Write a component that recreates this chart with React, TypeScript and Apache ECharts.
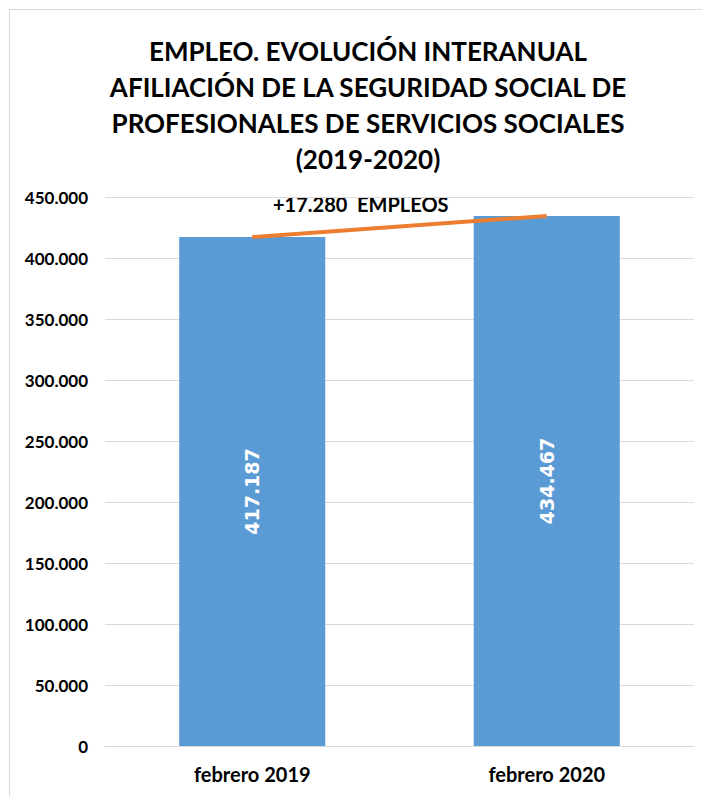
import React, { useEffect, useRef } from "react";
import * as echarts from "echarts";

const categories = ["febrero 2019", "febrero 2020"];
const afiliados = [417187, 434467];
const titleLines = [
  "EMPLEO. EVOLUCIÓN INTERANUAL",
  "AFILIACIÓN DE LA SEGURIDAD SOCIAL DE",
  "PROFESIONALES DE SERVICIOS SOCIALES",
  "(2019-2020)",
];
const annotation = "+17.280  EMPLEOS";
const yMax = 450000;
const yStep = 50000;

const fmt = (v: number) =>
  String(Math.round(v)).replace(/\B(?=(\d{3})+(?!\d))/g, ".");

const FONT = "Lato, 'Open Sans', sans-serif";

export default function App() {
  const ref = useRef<HTMLDivElement>(null);
  useEffect(() => {
    if (!ref.current) return;
    const chart = echarts.init(ref.current, undefined, { renderer: "svg" });
    chart.setOption({
      animation: false,
      backgroundColor: "#ffffff",
      title: {
        text: titleLines.join("\n"),
        left: 363,
        top: 28,
        textAlign: "center",
        textStyle: {
          fontFamily: FONT,
          fontWeight: "bold",
          fontSize: 26,
          lineHeight: 36,
          color: "#000000",
        },
      },
      grid: { left: 105, right: 8, top: 197, bottom: 50 },
      xAxis: {
        type: "category",
        data: categories,
        axisLine: { show: true, lineStyle: { color: "#D9D9D9", width: 1 } },
        axisTick: { show: false },
        axisLabel: {
          margin: 18,
          fontFamily: FONT,
          fontWeight: "bold",
          fontSize: 20,
          color: "#000000",
        },
      },
      yAxis: {
        type: "value",
        min: 0,
        max: yMax,
        interval: yStep,
        axisLine: { show: false },
        axisTick: { show: false },
        splitLine: { lineStyle: { color: "#D9D9D9", width: 1 } },
        axisLabel: {
          margin: 17,
          fontFamily: FONT,
          fontWeight: "bold",
          fontSize: 17,
          color: "#000000",
          formatter: (v: number) => fmt(v),
        },
      },
      graphic: [
        {
          type: "rect",
          silent: true,
          shape: { x: 9.5, y: 9.5, width: 900, height: 900 },
          style: { fill: "none", stroke: "#D9D9D9", lineWidth: 1 },
        },
        {
          type: "text",
          left: 273,
          top: 194,
          style: {
            text: annotation,
            fontFamily: FONT,
            fontWeight: "bold",
            fontSize: 20,
            fill: "#000000",
          },
        },
      ],
      series: [
        {
          type: "bar",
          data: afiliados,
          barWidth: "49.6%",
          itemStyle: { color: "#5B9BD5" },
          label: {
            show: true,
            position: "inside",
            rotate: 90,
            color: "#ffffff",
            fontFamily: "'DejaVu Sans', sans-serif",
            fontWeight: "bold",
            fontSize: 19,
            formatter: (p: any) => fmt(p.value),
          },
        },
        {
          type: "line",
          data: afiliados,
          symbol: "none",
          lineStyle: { color: "#ED7D31", width: 4 },
          z: 5,
        },
      ],
    });
    return () => chart.dispose();
  }, []);
  return (
    <div
      ref={ref}
      style={{ position: "fixed", left: 0, top: 0, width: 702, height: 796 }}
    />
  );
}
